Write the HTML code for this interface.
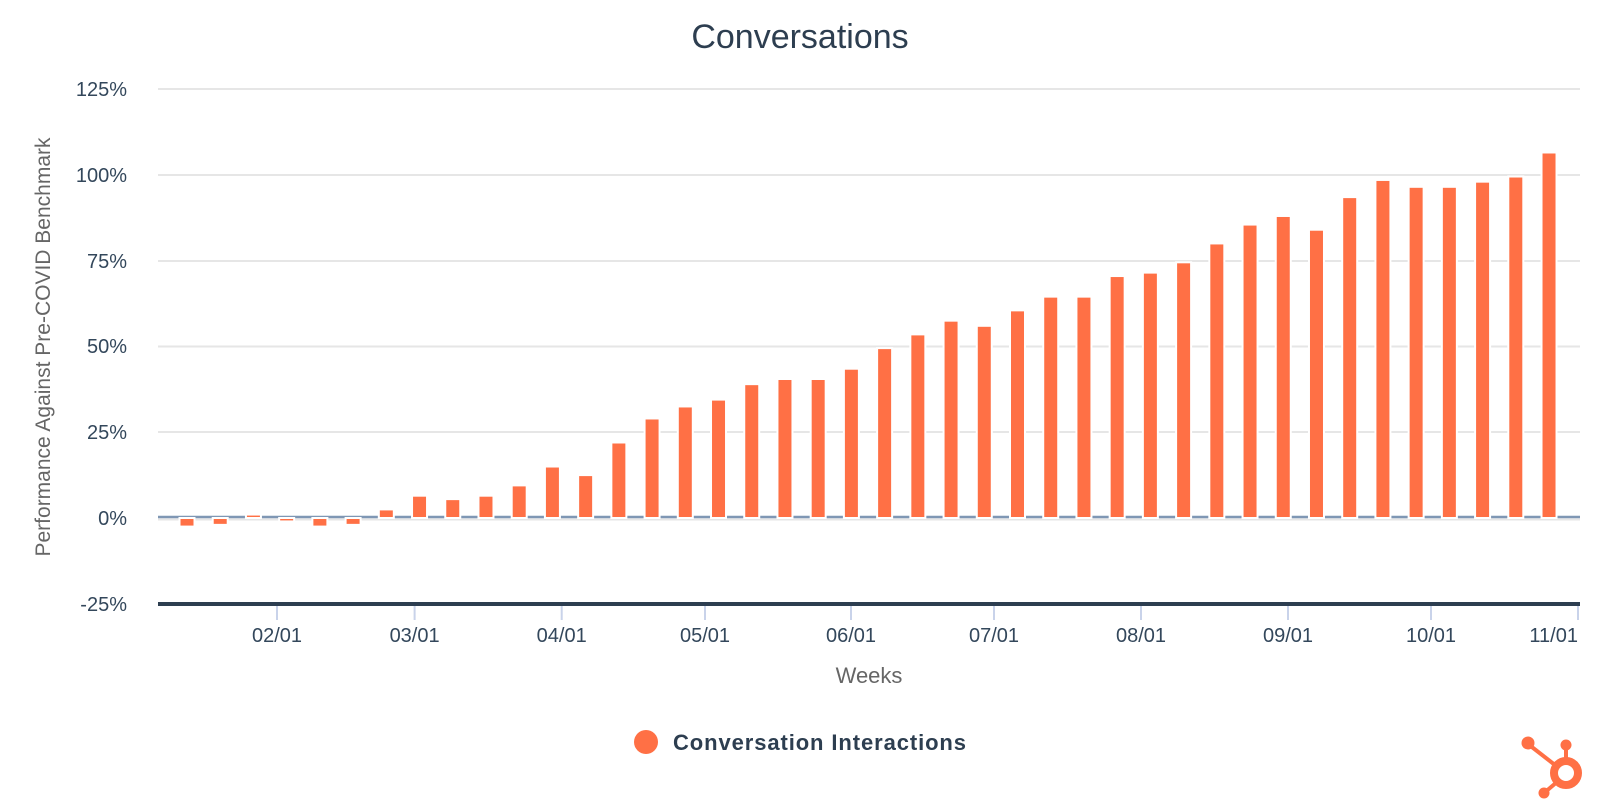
<!DOCTYPE html>
<html><head><meta charset="utf-8"><style>
html,body{margin:0;padding:0;background:#fff;width:1600px;height:800px;overflow:hidden}
svg{display:block;font-family:"Liberation Sans",sans-serif}
</style></head><body>
<svg id="c" width="1600" height="800" viewBox="0 0 1600 800" xmlns="http://www.w3.org/2000/svg">
<text x="800" y="48" text-anchor="middle" font-size="34" fill="#2d3e50">Conversations</text>
<g stroke="#e6e6e6" stroke-width="2">
<line x1="158" x2="1580" y1="89" y2="89"/>
<line x1="158" x2="1580" y1="175" y2="175"/>
<line x1="158" x2="1580" y1="261" y2="261"/>
<line x1="158" x2="1580" y1="346.5" y2="346.5"/>
<line x1="158" x2="1580" y1="432" y2="432"/>
<line x1="158" x2="1580" y1="519.5" y2="519.5"/>
</g>
<line x1="158" x2="1580" y1="517" y2="517" stroke="#7f97b4" stroke-width="2.5"/>
<g font-size="20" fill="#33475b" text-anchor="end">
<text x="127" y="96">125%</text>
<text x="127" y="182">100%</text>
<text x="127" y="268">75%</text>
<text x="127" y="353">50%</text>
<text x="127" y="439">25%</text>
<text x="127" y="525">0%</text>
<text x="127" y="611">-25%</text>
</g>
<text transform="translate(50,347) rotate(-90)" text-anchor="middle" font-size="21" fill="#666">Performance Against Pre-COVID Benchmark</text>
<g id="bars"></g>
<line x1="158" x2="1580" y1="604" y2="604" stroke="#2d3e50" stroke-width="4"/>
<g id="ticks" stroke="#c9d3ea" stroke-width="2"></g>
<g id="tl" font-size="20" fill="#33475b"></g>
<text x="869" y="683" text-anchor="middle" font-size="22" fill="#666">Weeks</text>
<circle cx="646" cy="742" r="12" fill="#ff7045"/>
<text x="673" y="750" font-size="22" font-weight="bold" fill="#2d3e50" letter-spacing="0.9">Conversation Interactions</text>
<g fill="#ff7045" stroke="#ff7045">
<circle cx="1566" cy="773" r="12" fill="none" stroke-width="8"/>
<line x1="1566" y1="760" x2="1566" y2="745" stroke-width="4"/>
<circle cx="1566" cy="745" r="5.5" stroke="none"/>
<line x1="1555" y1="765" x2="1528" y2="744" stroke-width="4"/>
<circle cx="1528" cy="743" r="6.5" stroke="none"/>
<line x1="1557" y1="782" x2="1544" y2="793" stroke-width="4"/>
<circle cx="1544" cy="793" r="5.5" stroke="none"/>
</g>
</svg>
<script>
var vals=[-2.5,-2,1,-1,-2.5,-2,2.5,6.5,5.5,6.5,9.5,15,12.5,22,29,32.5,34.5,39,40.5,40.5,43.5,49.5,53.5,57.5,56,60.5,64.5,64.5,70.5,71.5,74.5,80,85.5,88,84,93.5,98.5,96.5,96.5,98,99.5,106.5];
var ns="http://www.w3.org/2000/svg",g=document.getElementById('bars');
function y(v){return 518-v*3.432;}
vals.forEach(function(v,i){var cx=187+i*33.22;var r=document.createElementNS(ns,'rect');
var y0=y(0),y1=y(v);r.setAttribute('x',cx-7.5);r.setAttribute('width',15);
r.setAttribute('y',Math.min(y0,y1));r.setAttribute('height',Math.max(Math.abs(y1-y0),1.5));
r.setAttribute('fill','#ff7045');r.setAttribute('stroke','#fff');r.setAttribute('stroke-width','2');g.appendChild(r);});
var t=[['02/01',277],['03/01',414.6],['04/01',561.7],['05/01',705],['06/01',851],['07/01',994],['08/01',1141],['09/01',1288],['10/01',1431],['11/01',1578]];
var tk=document.getElementById('ticks'),tl=document.getElementById('tl');
t.forEach(function(a,i){var l=document.createElementNS(ns,'line');l.setAttribute('x1',a[1]);l.setAttribute('x2',a[1]);l.setAttribute('y1',606);l.setAttribute('y2',620);tk.appendChild(l);
var tx=document.createElementNS(ns,'text');tx.textContent=a[0];
tx.setAttribute('x',a[1]);tx.setAttribute('text-anchor',i==t.length-1?'end':'middle');
tx.setAttribute('y',642);tl.appendChild(tx);});
</script>
</body></html>
